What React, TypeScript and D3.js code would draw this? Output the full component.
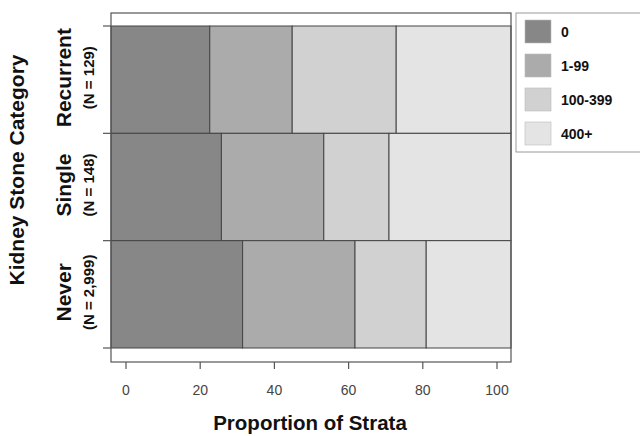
import React from 'react';
import * as d3 from 'd3';

// categories, top to bottom as drawn
const categories = ['Recurrent', 'Single', 'Never'];
const counts = ['(N = 129)', '(N = 148)', '(N = 2,999)'];
const strata = ['0', '1-99', '100-399', '400+'];
// percent of each category in each stratum
const recurrentPct = [24.7, 20.6, 26.0, 28.7];
const singlePct = [27.6, 25.6, 16.3, 30.5];
const neverPct = [32.9, 28.1, 17.8, 21.2];
const xTicks = [0, 20, 40, 60, 80, 100];
const colors = ['#878787', '#ababab', '#d1d1d1', '#e4e4e4'];

const font = '"Liberation Sans", Arial, sans-serif';

export default function App() {
  const width = 640;
  const height = 436;
  const box = { left: 111, right: 511, top: 13, bottom: 362 };

  const rows = [recurrentPct, singlePct, neverPct];

  // bars fill the box; the axis labels sit on a slightly narrower scale
  const xBar = d3.scaleLinear().domain([0, 100]).range([box.left, box.right]);
  const xAxis = d3.scaleLinear().domain([0, 100]).range([126, 497]);
  const y = d3.scaleBand().domain(categories).range([26, 348]).padding(0);

  const stacked = rows.map(vals => {
    const ends = d3.cumsum(vals);
    return vals.map((v, i) => ({ x0: ends[i] - v, x1: ends[i], i }));
  });

  return (
    <svg width={width} height={height} style={{ position: 'absolute', left: 0, top: 0 }} fontFamily={font}>
      <rect x={0} y={0} width={width} height={height} fill="#fff" />

      {stacked.map((segs, r) =>
        segs.map(s => (
          <rect
            key={`${r}-${s.i}`}
            x={xBar(s.x0)}
            y={y(categories[r])}
            width={xBar(s.x1) - xBar(s.x0)}
            height={y.bandwidth()}
            fill={colors[s.i]}
            stroke="#444"
            strokeWidth={1}
          />
        ))
      )}

      <rect
        x={box.left}
        y={box.top}
        width={box.right - box.left}
        height={box.bottom - box.top}
        fill="none"
        stroke="#555"
        strokeWidth={1.2}
      />

      {/* y ticks at band edges */}
      {[...categories.map(c => y(c)), y.range()[1]].map((v, i) => (
        <line key={i} x1={103} x2={box.left} y1={v} y2={v} stroke="#555" strokeWidth={1.2} />
      ))}

      {/* y category labels */}
      {categories.map((c, i) => {
        const cy = y(c) + y.bandwidth() / 2 - 2;
        return (
          <g key={c}>
            <text
              transform={`translate(71,${cy}) rotate(-90)`}
              textAnchor="middle"
              fontSize={21}
              fontWeight="bold"
              fill="#111"
            >
              {c}
            </text>
            <text
              transform={`translate(94,${cy}) rotate(-90)`}
              textAnchor="middle"
              fontSize={15}
              fontWeight="bold"
              fill="#111"
            >
              {counts[i]}
            </text>
          </g>
        );
      })}

      <text
        transform="translate(24,170) rotate(-90)"
        textAnchor="middle"
        fontSize={21}
        fontWeight="bold"
        fill="#111"
      >
        Kidney Stone Category
      </text>

      {/* x axis */}
      {xTicks.map(t => (
        <g key={t}>
          <line x1={xAxis(t)} x2={xAxis(t)} y1={box.bottom} y2={369} stroke="#555" strokeWidth={1.2} />
          <text x={xAxis(t)} y={395} textAnchor="middle" fontSize={14} fill="#444">
            {t}
          </text>
        </g>
      ))}

      <text x={310} y={430} textAnchor="middle" fontSize={20.5} fontWeight="bold" fill="#111">
        Proportion of Strata
      </text>

      {/* legend */}
      <rect x={516} y={13} width={130} height={139} fill="#fff" stroke="#999" strokeWidth={1} />
      {strata.map((s, i) => (
        <g key={s} transform={`translate(525,${20 + i * 34})`}>
          <rect width={26} height={23} fill={colors[i]} stroke="#bbb" strokeWidth={0.6} />
          <text x={36} y={17} fontSize={14} fontWeight="bold" fill="#111">
            {s}
          </text>
        </g>
      ))}
    </svg>
  );
}
